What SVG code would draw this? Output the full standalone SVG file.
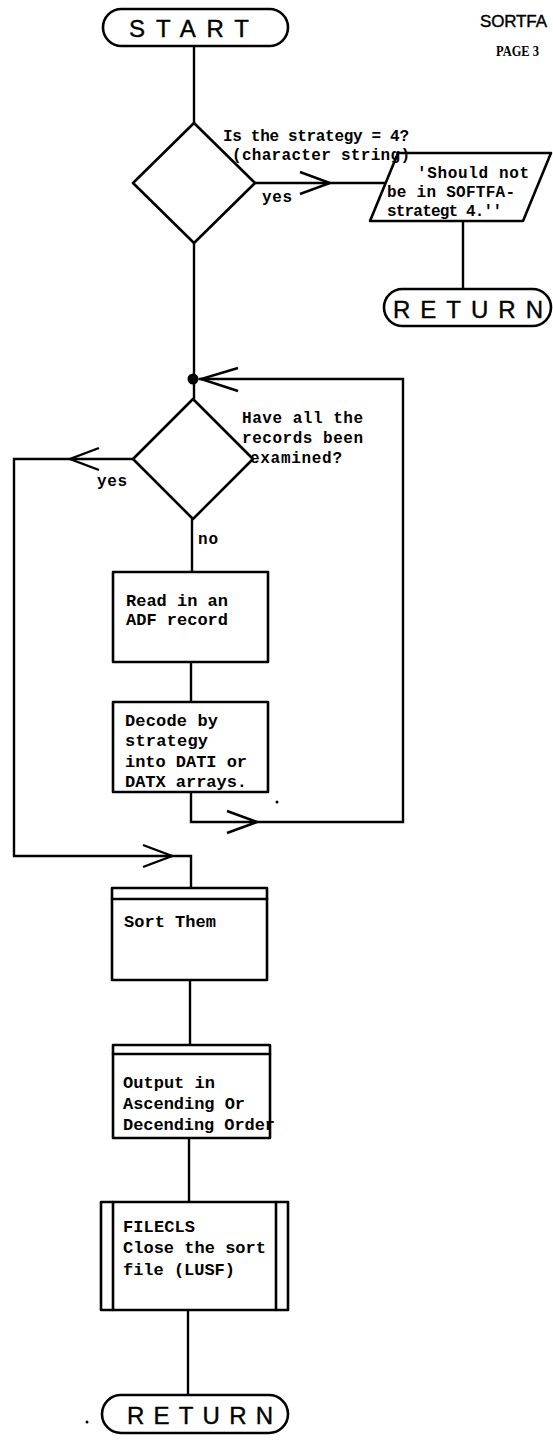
<svg xmlns="http://www.w3.org/2000/svg" width="553" height="1444" viewBox="0 0 553 1444">
<style>
.s{fill:none;stroke:#000;stroke-width:2.6;stroke-linejoin:round;stroke-linecap:round}
.c{fill:none;stroke:#000;stroke-width:2.4;stroke-linejoin:miter}
.t{font-family:"Liberation Mono",monospace;font-weight:bold;font-size:16px;fill:#000}
.b{font-family:"Liberation Mono",monospace;font-weight:bold;font-size:17px;fill:#000}
.term{font-family:"Liberation Sans",Arial,sans-serif;font-size:24px;fill:#000;stroke:#000;stroke-width:0.4}
</style>
<rect width="553" height="1444" fill="#fff"/>

<g id="connectors">
<path class="c" d="M194,46 V123"/>
<path class="c" d="M255,183 H386"/>
<path class="c" d="M300,172 L330,183 L300,194"/>
<path class="c" d="M463,221 V289"/>
<path class="c" d="M194,243 V399"/>
<circle cx="193" cy="379" r="5.5" fill="#000"/>
<path class="c" d="M199,379 H403 V822 H191 V792"/>
<path class="c" d="M238,368 L201,379 L238,391"/>
<path class="c" d="M227,811 L257,822 L227,833"/>
<path class="c" d="M133,459 H14 V856 H191 V888"/>
<path class="c" d="M99,448 L70,459 L99,470"/>
<path class="c" d="M143,845 L172,856 L143,867"/>
<path class="c" d="M192,519 V572"/>
<path class="c" d="M191,662 V702"/>
<path class="c" d="M190,980 V1045"/>
<path class="c" d="M189,1138 V1202"/>
<path class="c" d="M188,1310 V1395"/>
<text class="t" x="262" y="202" textLength="30">yes</text>
<text class="t" x="97" y="486" textLength="30">yes</text>
<text class="t" x="198" y="544" textLength="20">no</text>
</g>

<g id="title">
<text x="480" y="27" font-family="Liberation Sans,Arial,sans-serif" font-size="17" fill="#000" stroke="#000" stroke-width="0.4" textLength="67" lengthAdjust="spacing">SORTFA</text>
<text x="496" y="56" font-family="Liberation Serif,serif" font-weight="bold" font-size="14" fill="#000" textLength="43" lengthAdjust="spacingAndGlyphs">PAGE 3</text>
</g>

<g id="start">
<rect class="s" x="103" y="9" width="185" height="37" rx="18.5"/>
<text class="term" x="129" y="37" textLength="120" lengthAdjust="spacing">START</text>
</g>

<g id="decision1">
<polygon class="s" points="194,123 255,183 194,243 133,183"/>
<text class="t" x="223" y="141" textLength="186">Is the strategy = 4?</text>
<text class="t" x="232" y="160" textLength="178">(character string)</text>
</g>

<g id="output-msg">
<polygon class="s" points="398,153 551,153 523,221 370,221"/>
<text class="t" x="417" y="178" textLength="112">'Should not</text>
<text class="t" x="387" y="197" textLength="128">be in SOFTFA-</text>
<text class="t" x="387" y="216" textLength="115">strategt 4.''</text>
</g>

<g id="return1">
<rect class="s" x="384" y="289" width="167" height="37" rx="18.5"/>
<text class="term" x="393" y="318" textLength="150" lengthAdjust="spacing">RETURN</text>
</g>

<g id="decision2">
<polygon class="s" points="193,399 253,459 193,519 133,459"/>
<text class="t" x="242" y="423" textLength="121">Have all the</text>
<text class="t" x="242" y="443" textLength="121">records been</text>
<text class="t" x="250" y="463" textLength="92">examined?</text>
</g>

<g id="read">
<rect class="s" x="113" y="572" width="155" height="90"/>
<text class="b" x="126" y="606" textLength="102">Read in an</text>
<text class="b" x="126" y="625" textLength="102">ADF record</text>
</g>

<g id="decode">
<rect class="s" x="113" y="702" width="155" height="90"/>
<text class="b" x="125" y="726" textLength="93">Decode by</text>
<text class="b" x="125" y="746" textLength="83">strategy</text>
<text class="b" x="125" y="767" textLength="122">into DATI or</text>
<text class="b" x="125" y="787" textLength="122">DATX arrays.</text>
<circle cx="277" cy="802" r="1.5" fill="#000"/>
</g>

<g id="sort">
<rect class="s" x="112" y="888" width="155" height="92"/>
<path class="s" d="M112,899 H267"/>
<text class="b" x="124" y="927" textLength="92">Sort Them</text>
</g>

<g id="output">
<rect class="s" x="113" y="1045" width="157" height="93"/>
<path class="s" d="M113,1054 H270"/>
<text class="b" x="123" y="1088" textLength="92">Output in</text>
<text class="b" x="123" y="1109" textLength="122">Ascending Or</text>
<text class="b" x="123" y="1130" textLength="152">Decending Order</text>
</g>

<g id="filecls">
<rect class="s" x="101" y="1202" width="187" height="108"/>
<path class="s" d="M113,1202 V1310 M276,1202 V1310"/>
<text class="b" x="123" y="1232" textLength="72">FILECLS</text>
<text class="b" x="123" y="1253" textLength="143">Close the sort</text>
<text class="b" x="123" y="1275" textLength="112">file (LUSF)</text>
</g>

<g id="return2">
<rect class="s" x="102" y="1395" width="186" height="38" rx="19"/>
<text class="term" x="127" y="1424" textLength="146" lengthAdjust="spacing">RETURN</text>
<circle cx="87" cy="1422" r="1.5" fill="#000"/>
</g>
</svg>
